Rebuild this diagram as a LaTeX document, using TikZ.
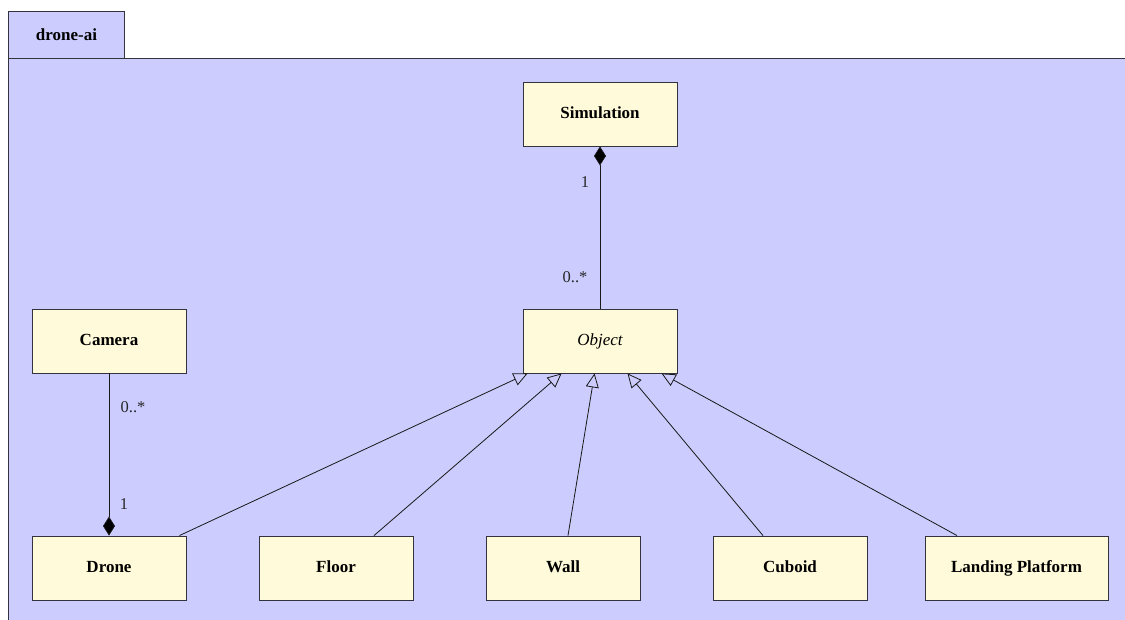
\documentclass[tikz,border=0pt]{standalone}
\usepackage{fontspec}
\setmainfont{Liberation Serif}
\usetikzlibrary{arrows.meta,calc}
\definecolor{framefill}{HTML}{CCCCFF}
\definecolor{classfill}{HTML}{FFFBDA}
\definecolor{edgecol}{HTML}{333340}
\begin{document}
\begin{tikzpicture}[x=1pt,y=-1pt,
  classbox/.style={draw=edgecol,fill=classfill,line width=0.9pt,minimum width=154pt,minimum height=64pt,inner sep=0pt,text height=11.5pt,text depth=3.5pt,font=\fontsize{17}{19}\selectfont\bfseries},
  lbl/.style={font=\fontsize{16.5}{18}\selectfont,inner sep=0pt,text=black!85},
  comp/.style={draw=black!90,line width=0.8pt,{Diamond[fill=black,length=19pt,width=12pt]}-},
  gen/.style={draw=black!90,line width=0.8pt,-{Triangle[open,length=14pt,width=13pt,line width=0.8pt]}}]
\useasboundingbox (0,0) rectangle (1125,619);
% frame
\fill[framefill] (8,58) rectangle (1135,630);
\draw[edgecol,line width=0.9pt] (8,630) -- (8,58) -- (1135,58);
\node[draw=edgecol,fill=framefill,line width=0.9pt,minimum width=116pt,minimum height=47pt,inner sep=0pt,anchor=north west,font=\fontsize{17}{19}\selectfont\bfseries] (tab) at (8,11) {drone-ai};
% classes
\node[classbox] (sim) at (600,114) {Simulation};
\node[classbox,font=\fontsize{17}{19}\selectfont\itshape] (obj) at (600,341) {Object};
\node[classbox] (cam) at (109,341) {Camera};
\node[classbox] (drone) at (109,568) {Drone};
\node[classbox] (floor) at (336,568) {Floor};
\node[classbox] (wall) at (563,568) {Wall};
\node[classbox] (cuboid) at (790,568) {Cuboid};
\node[classbox,minimum width=183pt] (land) at (1016.5,568) {Landing Platform};
% compositions
\draw[comp] (sim.south) -- (obj.north);
\draw[comp] (drone.north) -- (cam.south);
\node[lbl] (l1) at (585,182) {1};
\node[lbl] (l2) at (575,277) {0..*};
\node[lbl] (l3) at (133,407) {0..*};
\node[lbl] (l4) at (124,504) {1};
% generalizations
\draw[gen] ($(drone.north east)+(-7,0)$) -- ($(obj.south west)+(5,0)$);
\draw[gen] ($(floor.north)+(38,0)$) -- ($(obj.south west)+(39,0)$);
\draw[gen] ($(wall.north)+(5,0)$) -- ($(obj.south west)+(72,0)$);
\draw[gen] ($(cuboid.north)+(-27,0)$) -- ($(obj.south west)+(105,0)$);
\draw[gen] ($(land.north)+(-59.5,0)$) -- ($(obj.south west)+(139,0)$);
\end{tikzpicture}
\end{document}
